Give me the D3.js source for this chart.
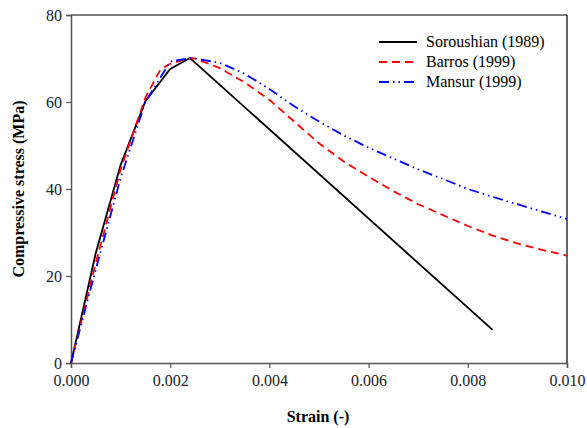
<!DOCTYPE html>
<html lang="en">
<head>
<meta charset="UTF-8">
<title>Compressive stress vs strain</title>
<script src="https://d3js.org/d3.v7.min.js"></script>
<style>
  body { margin: 0; background: #fff; }
</style>
</head>
<body>
<div id="chart"></div>
<script>
// strain values (-) and stresses (MPa)
const soroushianStrain = [0, 0.0005, 0.001, 0.0015, 0.002, 0.0024, 0.0085];
const soroushianStress = [0, 25.3, 45.5, 60.2, 67.6, 70.1, 7.6];

const barrosStrain = [0, 0.0005, 0.001, 0.0015, 0.0018, 0.002, 0.0024, 0.0025, 0.003, 0.0035, 0.004, 0.0045,
  0.005, 0.0055, 0.006, 0.0065, 0.007, 0.0075, 0.008, 0.0085, 0.009, 0.0095, 0.010];
const barrosStress = [0, 23, 44.5, 61, 67.4, 68.8, 70.1, 70, 67.8, 64.5, 60.5, 55.5,
  50.5, 46.3, 42.8, 39.5, 36.5, 34, 31.5, 29.3, 27.5, 26, 24.7];

const mansurStrain = [0, 0.0005, 0.001, 0.0015, 0.002, 0.0024, 0.0025, 0.003, 0.0035, 0.004, 0.0045,
  0.005, 0.0055, 0.006, 0.0065, 0.007, 0.0075, 0.008, 0.0085, 0.009, 0.0095, 0.010];
const mansurStress = [0, 21.5, 42.5, 60, 69.3, 70.1, 70, 69, 66.5, 63, 59,
  55.5, 52.3, 49.5, 47, 44.5, 42.3, 40, 38.2, 36.5, 34.8, 33.1];

const seriesNames = ["Soroushian (1989)", "Barros (1999)", "Mansur (1999)"];
const xTicks = [0, 0.002, 0.004, 0.006, 0.008, 0.010];
const yTicks = [0, 20, 40, 60, 80];

const W = 587, H = 428;
const FONT = "Liberation Serif";
const margin = { top: 15, right: 20, bottom: 65, left: 71 };
const width = 567 - margin.left;
const height = 363 - margin.top;

const series = [
  { name: seriesNames[0], x: soroushianStrain, y: soroushianStress, color: "#000", dash: null, w: 1.8 },
  { name: seriesNames[1], x: barrosStrain, y: barrosStress, color: "#ff0000", dash: "8,5", w: 1.8 },
  { name: seriesNames[2], x: mansurStrain, y: mansurStress, color: "#0000ff", dash: "10,4,1.5,4,1.5,4", w: 1.8 }
];

const svg = d3.select("#chart").append("svg")
  .attr("width", W).attr("height", H);
const g = svg.append("g")
  .attr("transform", "translate(" + margin.left + "," + margin.top + ")");

const x = d3.scaleLinear().domain([0, 0.010]).range([0, width]);
const y = d3.scaleLinear().domain([0, 80]).range([height, 0]);

// frame top and right
g.append("line").attr("x1", 0).attr("x2", width).attr("y1", 0).attr("y2", 0)
  .attr("stroke", "#000").attr("stroke-width", 1.2);
g.append("line").attr("x1", width).attr("x2", width).attr("y1", 0).attr("y2", height)
  .attr("stroke", "#000").attr("stroke-width", 1.2);

const xAxis = g.append("g")
  .attr("transform", "translate(0," + height + ")")
  .call(d3.axisBottom(x).tickValues(xTicks).tickFormat(d3.format(".3f")).tickSize(5).tickPadding(7));
const yAxis = g.append("g")
  .call(d3.axisLeft(y).tickValues(yTicks).tickSize(5).tickPadding(4));
[xAxis, yAxis].forEach(a => {
  a.select(".domain").attr("stroke", "#555").attr("stroke-width", 1.5);
  a.selectAll(".tick line").attr("stroke", "#555").attr("stroke-width", 1.2);
  a.selectAll(".tick text").attr("fill", "#222");
});

const line = d3.line().x(d => x(d[0])).y(d => y(d[1]));
series.forEach(s => {
  g.append("path")
    .datum(d3.zip(s.x, s.y))
    .attr("d", line)
    .attr("fill", "none")
    .attr("stroke", s.color)
    .attr("stroke-width", s.w)
    .attr("stroke-dasharray", s.dash);
});

// axis titles
svg.append("text").attr("class", "axis-title")
  .attr("x", margin.left + width / 2 - 1).attr("y", 422)
  .attr("text-anchor", "middle").style("font-weight", "bold").text("Strain (-)");
svg.append("text").attr("class", "axis-title")
  .attr("transform", "translate(24," + (margin.top + height / 2) + ") rotate(-90)")
  .attr("text-anchor", "middle").style("font-weight", "bold").text("Compressive stress (MPa)");

// legend
const legend = svg.append("g").attr("class", "legend")
  .attr("transform", "translate(379,42)");
series.forEach((s, i) => {
  const row = legend.append("g").attr("transform", "translate(0," + i * 20 + ")");
  row.append("line").attr("x1", 0).attr("x2", 38).attr("y1", 0).attr("y2", 0)
    .attr("stroke", s.color).attr("stroke-width", s.w).attr("stroke-dasharray", s.dash);
  row.append("text").attr("x", 47).attr("y", 5).text(s.name);
});

// one font for every label
svg.selectAll("text")
  .style("font-family", FONT)
  .style("font-size", "16px");
</script>
</body>
</html>
